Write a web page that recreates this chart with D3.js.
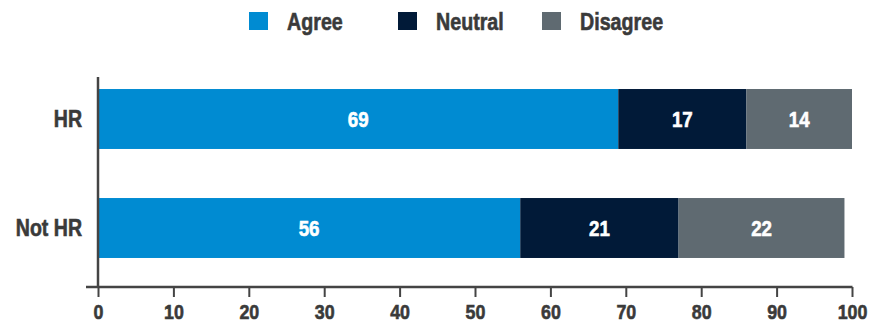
<!DOCTYPE html>
<html>
<head>
<meta charset="utf-8">
<script src="https://cdn.jsdelivr.net/npm/d3@7"></script>
<style>
  html, body { margin: 0; padding: 0; background: #fff; }
  svg text { font-family: "Liberation Sans", Arial, sans-serif; font-weight: bold; }
</style>
</head>
<body>
<svg id="chart" width="869" height="326"></svg>
<script>
// Survey responses by group (percent)
const categories = ["HR", "Not HR"];
const seriesNames = ["Agree", "Neutral", "Disagree"];
const agree = [69, 56];
const neutral = [17, 21];
const disagree = [14, 22];
const xTicks = [0, 10, 20, 30, 40, 50, 60, 70, 80, 90, 100];

const colors = { Agree: "#008bd2", Neutral: "#011a38", Disagree: "#5f6a71" };
const textColor = "#3a3a3a";
const axisColor = "#444";
const narrow = 0.85; // horizontal squeeze for a condensed type look
const heavy = 0.6;   // outline width that thickens the strokes of the lettering

const rows = categories.map((c, i) => ({ cat: c, Agree: agree[i], Neutral: neutral[i], Disagree: disagree[i] }));
const stacked = d3.stack().keys(seriesNames)(rows);

const svg = d3.select("#chart");

const x = d3.scaleLinear().domain([0, 100]).range([98, 852]);
const y = d3.scaleBand().domain(categories).range([64, 283]).paddingInner(0.45).paddingOuter(0.2295);

// stacked bar segments
const layers = svg.append("g").selectAll("g")
  .data(stacked).join("g")
  .attr("fill", d => colors[d.key]);

layers.selectAll("rect")
  .data(d => d)
  .join("rect")
  .attr("x", d => x(d[0]))
  .attr("y", d => y(d.data.cat))
  .attr("width", d => x(d[1]) - x(d[0]))
  .attr("height", y.bandwidth());

// value labels inside segments
layers.selectAll("text")
  .data(d => d)
  .join("text")
  .attr("transform", d => `translate(${(x(d[0]) + x(d[1])) / 2},${y(d.data.cat) + y.bandwidth() / 2}) scale(${narrow},1)`)
  .attr("dy", "0.36em")
  .attr("text-anchor", "middle")
  .attr("fill", "#fff")
  .attr("stroke", "#fff")
  .attr("stroke-width", heavy)
  .style("font-size", "22px")
  .text(d => d[1] - d[0]);

// x axis
const xAxis = svg.append("g")
  .attr("transform", "translate(0,287)")
  .call(d3.axisBottom(x).tickValues(xTicks).tickSize(10).tickPadding(7).tickSizeOuter(0));
xAxis.select(".domain").remove();
xAxis.append("line")
  .attr("x1", 86).attr("x2", 852.5)
  .attr("stroke", axisColor).attr("stroke-width", 2.5);
xAxis.selectAll(".tick line").attr("stroke", axisColor).attr("stroke-width", 2);
xAxis.selectAll(".tick text")
  .attr("fill", textColor)
  .attr("stroke", textColor)
  .attr("stroke-width", heavy)
  .attr("font-family", null)
  .attr("font-size", null)
  .attr("transform", `scale(${narrow},1)`)
  .style("font-size", "21px");

// y axis line
svg.append("line")
  .attr("x1", 98).attr("x2", 98)
  .attr("y1", 77).attr("y2", 288)
  .attr("stroke", axisColor).attr("stroke-width", 2.5);

// category labels
svg.append("g").selectAll("text")
  .data(categories).join("text")
  .attr("transform", d => `translate(82,${y(d) + y.bandwidth() / 2}) scale(${narrow},1)`)
  .attr("dy", "0.36em")
  .attr("text-anchor", "end")
  .attr("fill", textColor)
  .attr("stroke", textColor)
  .attr("stroke-width", heavy)
  .style("font-size", "23px")
  .text(d => d);

// legend
const legendX = [249, 398, 542];
const legend = svg.append("g").selectAll("g")
  .data(seriesNames).join("g")
  .attr("transform", (d, i) => `translate(${legendX[i]},12)`);
legend.append("rect")
  .attr("width", 19).attr("height", 18)
  .attr("fill", d => colors[d]);
legend.append("text")
  .attr("transform", `translate(38,9) scale(${narrow - 0.03},1)`)
  .attr("dy", "0.36em")
  .attr("fill", textColor)
  .attr("stroke", textColor)
  .attr("stroke-width", heavy)
  .style("font-size", "24px")
  .text(d => d);
</script>
</body>
</html>
